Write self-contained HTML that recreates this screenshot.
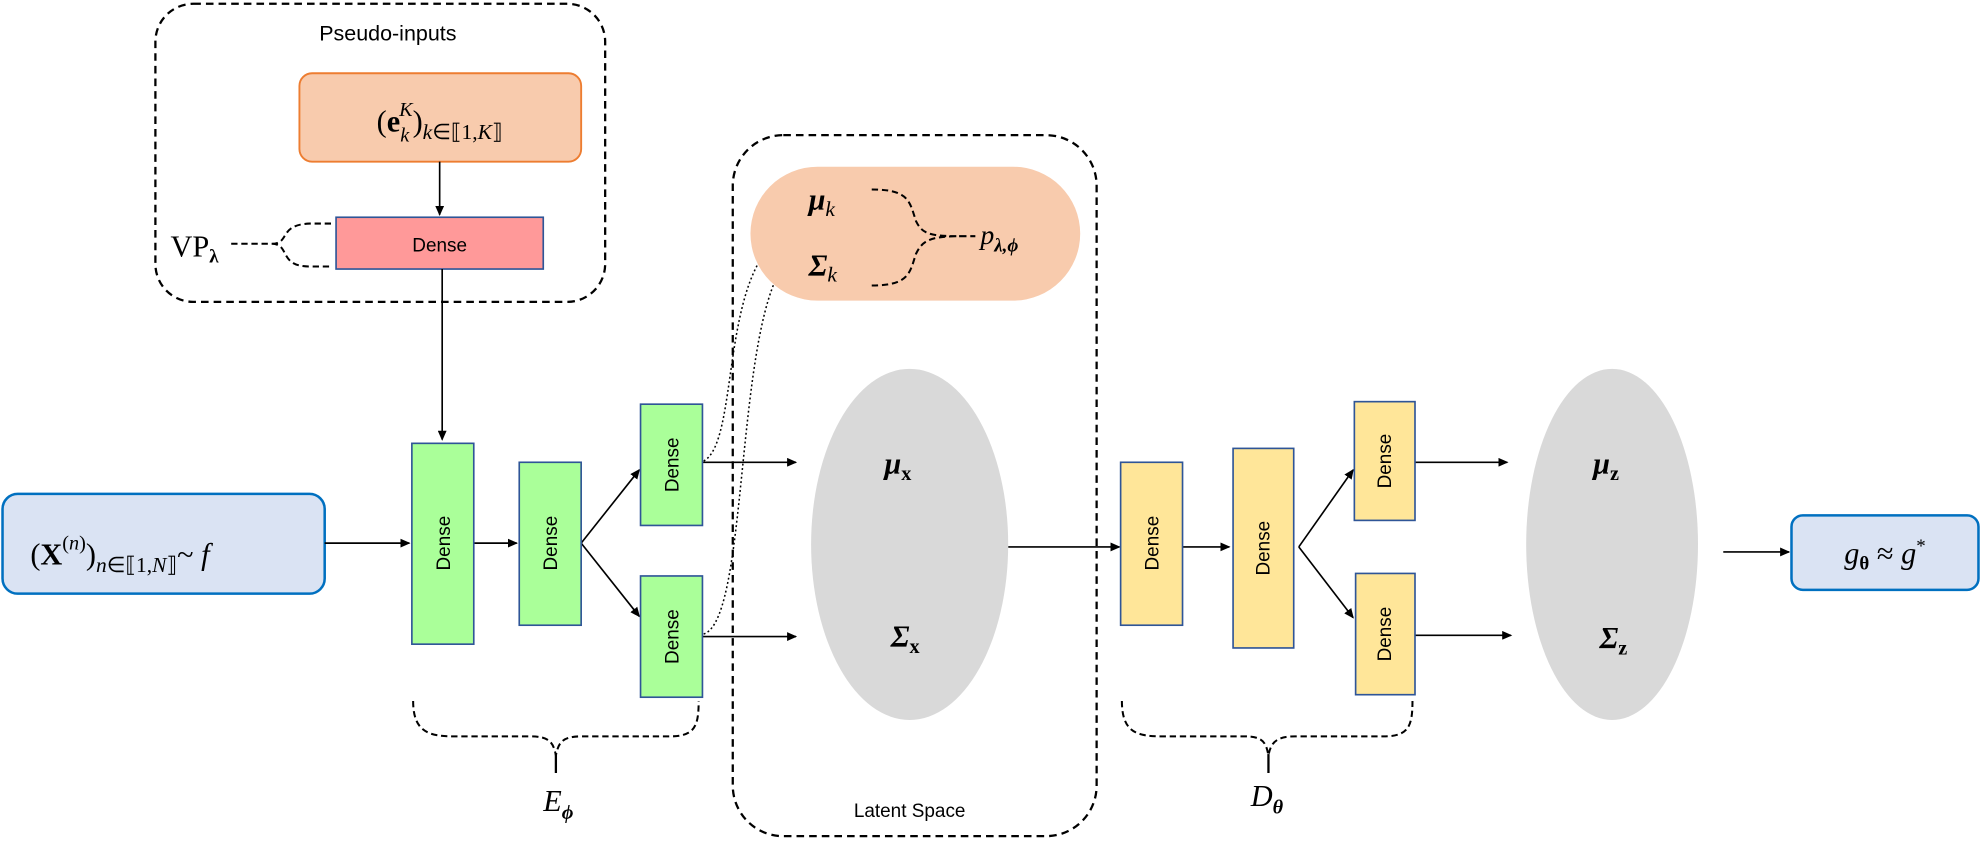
<!DOCTYPE html>
<html><head><meta charset="utf-8"><style>
html,body{margin:0;padding:0;background:#fff;}
svg{display:block;}
.m{font-family:"Liberation Serif",serif;}
.s{font-family:"Liberation Sans","DejaVu Sans",sans-serif;}
</style></head><body>
<svg width="1981" height="845" viewBox="0 0 1568 669" preserveAspectRatio="none" xmlns="http://www.w3.org/2000/svg">
<defs>
<marker id="a" markerWidth="10" markerHeight="8" refX="9" refY="4" orient="auto" markerUnits="userSpaceOnUse"><path d="M0,0 L10,4 L0,8 z" fill="#000"/></marker>
<marker id="b" markerWidth="8" markerHeight="7" refX="7" refY="3.5" orient="auto" markerUnits="userSpaceOnUse"><path d="M0,0 L8,3.5 L0,7 z" fill="#000"/></marker>
</defs>
<g fill="none" stroke="#000" stroke-width="1.8" stroke-dasharray="6,4">
<rect x="123" y="3" width="356" height="236" rx="30"/>
<rect x="580" y="107" width="288" height="555" rx="40"/>
</g>
<text x="307" y="32" class="s" font-size="17" text-anchor="middle">Pseudo-inputs</text>
<text x="720" y="647" class="s" font-size="15" text-anchor="middle">Latent Space</text>
<!-- pseudo-input box -->
<rect x="237" y="58" width="223" height="70" rx="10" fill="#F8CBAD" stroke="#ED7D31" stroke-width="1.5"/>
<text x="348" y="104" class="m" font-size="24" text-anchor="middle">(<tspan font-weight="bold">e</tspan><tspan font-style="italic" font-size="16" dy="8">k</tspan><tspan font-style="italic" font-size="16" dx="-8" dy="-20">K</tspan><tspan dy="12">)</tspan><tspan font-style="italic" font-size="17" dy="6">k</tspan><tspan font-size="17">∈⟦1,</tspan><tspan font-style="italic" font-size="17">K</tspan><tspan font-size="17">⟧</tspan></text>
<line x1="348" y1="128" x2="348" y2="170" stroke="#000" stroke-width="1.3" marker-end="url(#b)"/>
<rect x="266" y="172" width="164" height="41" fill="#FF9999" stroke="#2F5597" stroke-width="1.3"/>
<text x="348" y="199" class="s" font-size="15" text-anchor="middle">Dense</text>
<text x="135" y="203" class="m" font-size="24">VP<tspan font-size="15" font-weight="bold" dy="5">λ</tspan></text>
<path d="M183,193 L215,193 C230,193 220,178 245,177 L262,177 M215,193 C230,193 220,211 245,211 L262,211" fill="none" stroke="#000" stroke-width="1.6" stroke-dasharray="5,3"/>
<line x1="350" y1="213" x2="350" y2="348" stroke="#000" stroke-width="1.3" marker-end="url(#b)"/>
<!-- input -->
<rect x="2" y="391" width="255" height="79" rx="12" fill="#DAE3F3" stroke="#0070C0" stroke-width="2"/>
<text x="24" y="447" class="m" font-size="24">(<tspan font-weight="bold">X</tspan><tspan font-size="16" dy="-12">(<tspan font-style="italic">n</tspan>)</tspan><tspan dy="12">)</tspan><tspan font-size="17" dy="6"><tspan font-style="italic">n</tspan>∈⟦1,<tspan font-style="italic">N</tspan>⟧</tspan><tspan dy="-6">~ <tspan font-style="italic">f</tspan></tspan></text>
<g stroke="#000" stroke-width="1.3" fill="none">
<line x1="257" y1="430" x2="324" y2="430" marker-end="url(#b)"/>
<line x1="375" y1="430" x2="409" y2="430" marker-end="url(#b)"/>
<line x1="460" y1="430" x2="506" y2="372" marker-end="url(#b)"/>
<line x1="460" y1="430" x2="506" y2="488" marker-end="url(#b)"/>
<line x1="556" y1="366" x2="630" y2="366" marker-end="url(#b)"/>
<line x1="556" y1="504" x2="630" y2="504" marker-end="url(#b)"/>
<line x1="798" y1="433" x2="886" y2="433" marker-end="url(#b)"/>
<line x1="936" y1="433" x2="973" y2="433" marker-end="url(#b)"/>
<line x1="1028" y1="433" x2="1071" y2="372" marker-end="url(#b)"/>
<line x1="1028" y1="433" x2="1071" y2="489" marker-end="url(#b)"/>
<line x1="1120" y1="366" x2="1193" y2="366" marker-end="url(#b)"/>
<line x1="1120" y1="503" x2="1196" y2="503" marker-end="url(#b)"/>
<line x1="1364" y1="437" x2="1416" y2="437" marker-end="url(#b)"/>
</g>
<g stroke="#000" stroke-width="1.2" fill="none" stroke-dasharray="1.5,2">
<path d="M557,365 C585,350 570,220 618,188" marker-end="url(#b)"/>
<path d="M557,502 C595,490 580,230 630,200" marker-end="url(#b)"/>
</g>
<!-- encoder dense -->
<g stroke="#2F5597" stroke-width="1.3" fill="#AAFF99">
<rect x="326" y="351" width="49" height="159"/>
<rect x="411" y="366" width="49" height="129"/>
<rect x="507" y="320" width="49" height="96"/>
<rect x="507" y="456" width="49" height="96"/>
</g>
<g stroke="#2F5597" stroke-width="1.3" fill="#FFE699">
<rect x="887" y="366" width="49" height="129"/>
<rect x="976" y="355" width="48" height="158"/>
<rect x="1072" y="318" width="48" height="94"/>
<rect x="1073" y="454" width="47" height="96"/>
</g>
<g class="s" font-size="15" text-anchor="middle">
<text transform="translate(356,430) rotate(-90)">Dense</text>
<text transform="translate(441,430) rotate(-90)">Dense</text>
<text transform="translate(537,368) rotate(-90)">Dense</text>
<text transform="translate(537,504) rotate(-90)">Dense</text>
<text transform="translate(917,430) rotate(-90)">Dense</text>
<text transform="translate(1005,434) rotate(-90)">Dense</text>
<text transform="translate(1101,365) rotate(-90)">Dense</text>
<text transform="translate(1101,502) rotate(-90)">Dense</text>
</g>
<!-- latent prior -->
<rect x="594" y="132" width="261" height="106" rx="53" fill="#F8CBAD"/>
<text x="640" y="166" class="m" font-size="24" font-weight="bold" font-style="italic">μ<tspan font-size="17" font-weight="normal" dy="5">k</tspan></text>
<text x="640" y="218" class="m" font-size="24" font-weight="bold" font-style="italic">Σ<tspan font-size="17" font-weight="normal" dy="5">k</tspan></text>
<path d="M690,150 C720,150 720,160 725,175 C730,185 735,187 760,187 L772,187 M690,226 C720,226 720,216 725,201 C730,191 735,187 760,187" fill="none" stroke="#000" stroke-width="1.6" stroke-dasharray="5,3"/>
<text x="776" y="193" class="m" font-size="22" font-style="italic">p<tspan font-size="15" font-weight="bold" dy="6">λ,ϕ</tspan></text>
<!-- ellipses -->
<ellipse cx="720" cy="431" rx="78" ry="139" fill="#D9D9D9"/>
<ellipse cx="1276" cy="431" rx="68" ry="139" fill="#D9D9D9"/>
<text x="700" y="375" class="m" font-size="24" font-weight="bold" font-style="italic">μ<tspan font-size="16" font-style="normal" dy="5">x</tspan></text>
<text x="705" y="512" class="m" font-size="24" font-weight="bold" font-style="italic">Σ<tspan font-size="16" font-style="normal" dy="5">x</tspan></text>
<text x="1261" y="375" class="m" font-size="24" font-weight="bold" font-style="italic">μ<tspan font-size="16" font-style="normal" dy="5">z</tspan></text>
<text x="1266" y="513" class="m" font-size="24" font-weight="bold" font-style="italic">Σ<tspan font-size="16" font-style="normal" dy="5">z</tspan></text>
<!-- output -->
<rect x="1418" y="408" width="148" height="59" rx="9" fill="#DAE3F3" stroke="#0070C0" stroke-width="2"/>
<text x="1492" y="446" class="m" font-size="24" text-anchor="middle"><tspan font-style="italic">g</tspan><tspan font-size="15" font-weight="bold" dy="5">θ</tspan><tspan dy="-5"> ≈ </tspan><tspan font-style="italic">g</tspan><tspan font-size="15" dy="-9">*</tspan></text>
<!-- braces -->
<g fill="none" stroke="#000" stroke-width="1.6" stroke-dasharray="5,3">
<path d="M327,555 C327,580 340,583 360,583 L420,583 C435,583 438,588 440,598 C442,588 445,583 460,583 L530,583 C550,583 553,575 553,555"/>
<path d="M888,555 C888,580 900,583 920,583 L985,583 C1000,583 1002,588 1004,598 C1006,588 1010,583 1025,583 L1095,583 C1115,583 1118,575 1118,555"/>
</g>
<line x1="440" y1="597" x2="440" y2="612" stroke="#000" stroke-width="1.8"/>
<line x1="1004" y1="597" x2="1004" y2="612" stroke="#000" stroke-width="1.8"/>
<text x="430" y="642" class="m" font-size="24" font-style="italic">E<tspan font-size="16" font-weight="bold" dy="6">ϕ</tspan></text>
<text x="990" y="638" class="m" font-size="24" font-style="italic">D<tspan font-size="16" font-weight="bold" dy="6">θ</tspan></text>
</svg>
</body></html>
